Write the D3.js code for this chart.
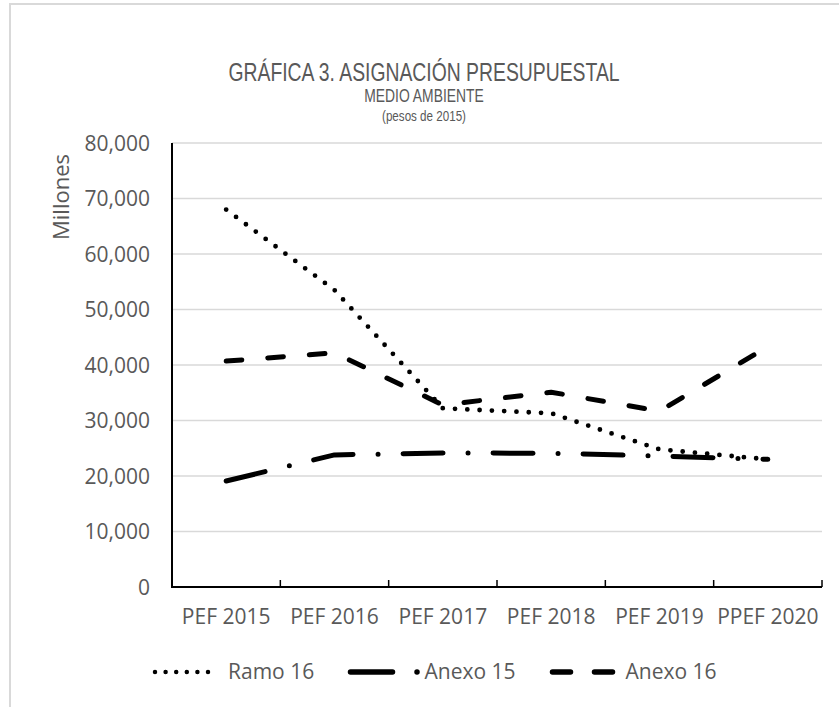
<!DOCTYPE html>
<html>
<head>
<meta charset="utf-8">
<script src="https://cdn.jsdelivr.net/npm/d3@7"></script>
<style>
  body { margin: 0; background: #fff; }
  text { fill: #595959; }
</style>
</head>
<body>
<div id="chart"></div>
<script>
// data
let categories = ['PEF 2015', 'PEF 2016', 'PEF 2017', 'PEF 2018', 'PEF 2019', 'PPEF 2020']
let ramo16 = [68000, 53500, 32200, 31300, 24800, 23000]
let anexo15 = [19100, 23800, 24150, 24100, 23600, 23000]
let anexo16 = [40700, 42200, 32800, 35100, 31700, 43300]
let yTicks = [0, 10000, 20000, 30000, 40000, 50000, 60000, 70000, 80000]
let seriesNames = ['Ramo 16', 'Anexo 15', 'Anexo 16']

let width = 839
let height = 707
let margin = {top: 143, right: 17, bottom: 120, left: 172}

let svg = d3.select('div#chart')
  .append('svg')
    .attr('width', width)
    .attr('height', height)

let bodyFont = "'Open Sans', sans-serif"
// no narrow font installed: squeeze Liberation Sans instead
let titleFont = "'Liberation Sans', Arial, sans-serif"

// outer chart border (right/bottom edges fall outside the picture)
svg.append('rect')
  .attr('x', 10)
  .attr('y', 4)
  .attr('width', 900)
  .attr('height', 800)
  .attr('fill', 'none')
  .attr('stroke', '#d9d9d9')
  .attr('stroke-width', 2)

let x = d3.scaleBand()
  .domain(categories)
  .range([margin.left, width - margin.right])

let y = d3.scaleLinear()
  .domain([0, 80000])
  .range([height - margin.bottom, margin.top])

// gridlines
svg.append('g')
  .selectAll('line')
  .data(yTicks.slice(1))
  .enter().append('line')
  .attr('x1', margin.left)
  .attr('x2', width - margin.right)
  .attr('y1', d => y(d))
  .attr('y2', d => y(d))
  .attr('stroke', '#d9d9d9')
  .attr('stroke-width', 1.5)

// y axis labels
let fmt = d3.format(',')
svg.append('g')
  .selectAll('text')
  .data(yTicks)
  .enter().append('text')
  .attr('x', margin.left - 22)
  .attr('y', d => y(d))
  .attr('dy', '0.36em')
  .attr('text-anchor', 'end')
  .style('font-family', bodyFont)
  .style('font-size', '21px')
  .text(d => fmt(d))

svg.append('text')
  .attr('transform', `translate(69, 197) rotate(-90)`)
  .attr('text-anchor', 'middle')
  .style('font-family', bodyFont)
  .style('font-size', '22px')
  .text('Millones')

// x axis with inward ticks at band edges
let xAxisY = y(0)
let edges = categories.map(c => x(c)).concat([x.range()[1]])
svg.append('g')
  .selectAll('line')
  .data(edges.slice(1))
  .enter().append('line')
  .attr('x1', d => d)
  .attr('x2', d => d)
  .attr('y1', xAxisY)
  .attr('y2', xAxisY - 7)
  .attr('stroke', '#000')
  .attr('stroke-width', 1.5)

svg.append('line')
  .attr('x1', margin.left)
  .attr('x2', width - margin.right)
  .attr('y1', xAxisY)
  .attr('y2', xAxisY)
  .attr('stroke', '#000')
  .attr('stroke-width', 2)

svg.append('line')
  .attr('x1', margin.left)
  .attr('x2', margin.left)
  .attr('y1', y(80000))
  .attr('y2', xAxisY + 1)
  .attr('stroke', '#000')
  .attr('stroke-width', 2)

svg.append('g')
  .selectAll('text')
  .data(categories)
  .enter().append('text')
  .attr('x', d => x(d) + x.bandwidth() / 2)
  .attr('y', xAxisY + 37)
  .attr('text-anchor', 'middle')
  .style('font-family', bodyFont)
  .style('font-size', '21px')
  .text(d => d)

// series
let styles = [
  {dash: '0 12.3', w: 4.8, legendDash: '0 10.6'},
  {dash: '40 25 0 25', w: 5, legendDash: '42 24.5 0.01 200'},
  {dash: '15.7 26', w: 5, legendDash: '18 24'}
]
let series = [ramo16, anexo15, anexo16]

let line = d3.line()
  .x((d, i) => x(categories[i]) + x.bandwidth() / 2)
  .y(d => y(d))

svg.append('g')
  .selectAll('path')
  .data(series)
  .enter().append('path')
  .attr('d', d => line(d))
  .attr('fill', 'none')
  .attr('stroke', '#000')
  .attr('stroke-width', (d, i) => styles[i].w)
  .attr('stroke-linecap', 'round')
  .attr('stroke-linejoin', 'round')
  .attr('stroke-dasharray', (d, i) => styles[i].dash)

// legend
let legendY = 672
let legendX = [155, 350.5, 552.5]
let sampleLen = [60, 68, 60]
let textGap = [13, 6, 13]
let legend = svg.append('g')
seriesNames.forEach((name, i) => {
  legend.append('line')
    .attr('x1', legendX[i])
    .attr('x2', legendX[i] + sampleLen[i])
    .attr('y1', legendY)
    .attr('y2', legendY)
    .attr('stroke', '#000')
    .attr('stroke-width', i === 0 ? 4.5 : 5.5)
    .attr('stroke-linecap', 'round')
    .attr('stroke-dasharray', styles[i].legendDash)
  legend.append('text')
    .attr('x', legendX[i] + sampleLen[i] + textGap[i])
    .attr('y', legendY + 7)
    .style('font-family', bodyFont)
    .style('font-size', '21px')
    .text(name)
})

// titles
let cx = 424
let titles = [
  {t: 'GRÁFICA 3. ASIGNACIÓN PRESUPUESTAL', y: 81, size: 26, sx: 0.745},
  {t: 'MEDIO AMBIENTE', y: 102, size: 18.5, sx: 0.75},
  {t: '(pesos de 2015)', y: 121, size: 15.5, sx: 0.75}
]
titles.forEach(d => {
  svg.append('text')
    .attr('transform', `translate(${cx}, ${d.y}) scale(${d.sx}, 1)`)
    .attr('text-anchor', 'middle')
    .style('font-family', titleFont)
    .style('font-size', d.size + 'px')
    .text(d.t)
})
</script>
</body>
</html>
